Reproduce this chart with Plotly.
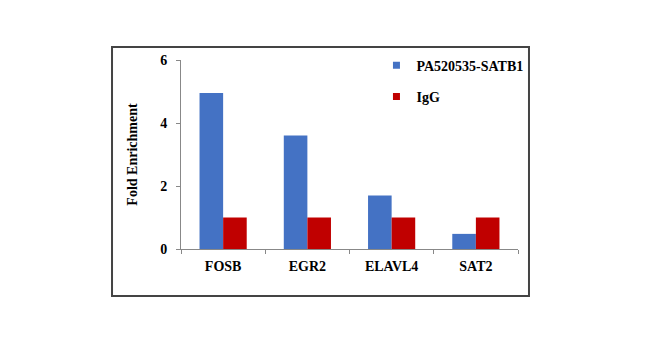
import plotly.graph_objects as go

categories = ["FOSB", "EGR2", "ELAVL4", "SAT2"]
satb1_values = [4.95, 3.6, 1.7, 0.48]
igg_values = [1.0, 1.0, 1.0, 1.0]
series_names = ["PA520535-SATB1", "IgG"]
colors = ["#4472C4", "#C00000"]
y_ticks = [0, 2, 4, 6]

FONT = "Liberation Serif"

fig = go.Figure()
for name, vals, col in zip(series_names, [satb1_values, igg_values], colors):
    fig.add_trace(go.Bar(x=categories, y=vals, name=name, marker_color=col,
                         marker_line_width=0, showlegend=False))
for i, (name, col) in enumerate(zip(series_names, colors)):
    fig.add_trace(go.Scatter(x=[None], y=[None], mode="markers", name=name,
                             marker=dict(symbol="square", size=7, color=col),
                             legendgroup=f"g{i}"))

fig.update_layout(
    width=650, height=352,
    margin=dict(l=181, r=132, t=60, b=103),
    paper_bgcolor="white", plot_bgcolor="white",
    barmode="group", bargap=0.44, bargroupgap=0,
    font=dict(family=FONT, size=14, color="black"),
    legend=dict(x=0.58, y=1.055, xanchor="left", yanchor="top",
                traceorder="grouped", tracegroupgap=10,
                font=dict(family=FONT, size=14, color="black", weight="bold"),
                bgcolor="rgba(0,0,0,0)"),
    xaxis=dict(showline=True, linecolor="#888888", linewidth=1,
               ticks="outside", tickson="boundaries", ticklen=4,
               tickcolor="#888888", ticklabelstandoff=4,
               tickfont=dict(family=FONT, size=14, weight="bold"),
               showgrid=False, zeroline=False),
    yaxis=dict(range=[0, 6], tickvals=y_ticks, showline=True,
               linecolor="#888888", linewidth=1, ticks="outside", ticklen=4,
               tickcolor="#888888", ticklabelstandoff=6,
               tickfont=dict(family=FONT, size=14, weight="bold"),
               showgrid=False, zeroline=False,
               title=dict(text="Fold Enrichment", standoff=19,
                          font=dict(family=FONT, size=14, weight="bold"))),
    shapes=[dict(type="rect", xref="paper", yref="paper",
                 x0=-0.2047, x1=1.0326, y0=-0.2487, y1=1.0688,
                 line=dict(color="#444444", width=2), fillcolor="rgba(0,0,0,0)")],
)

fig.write_html("out.html")
